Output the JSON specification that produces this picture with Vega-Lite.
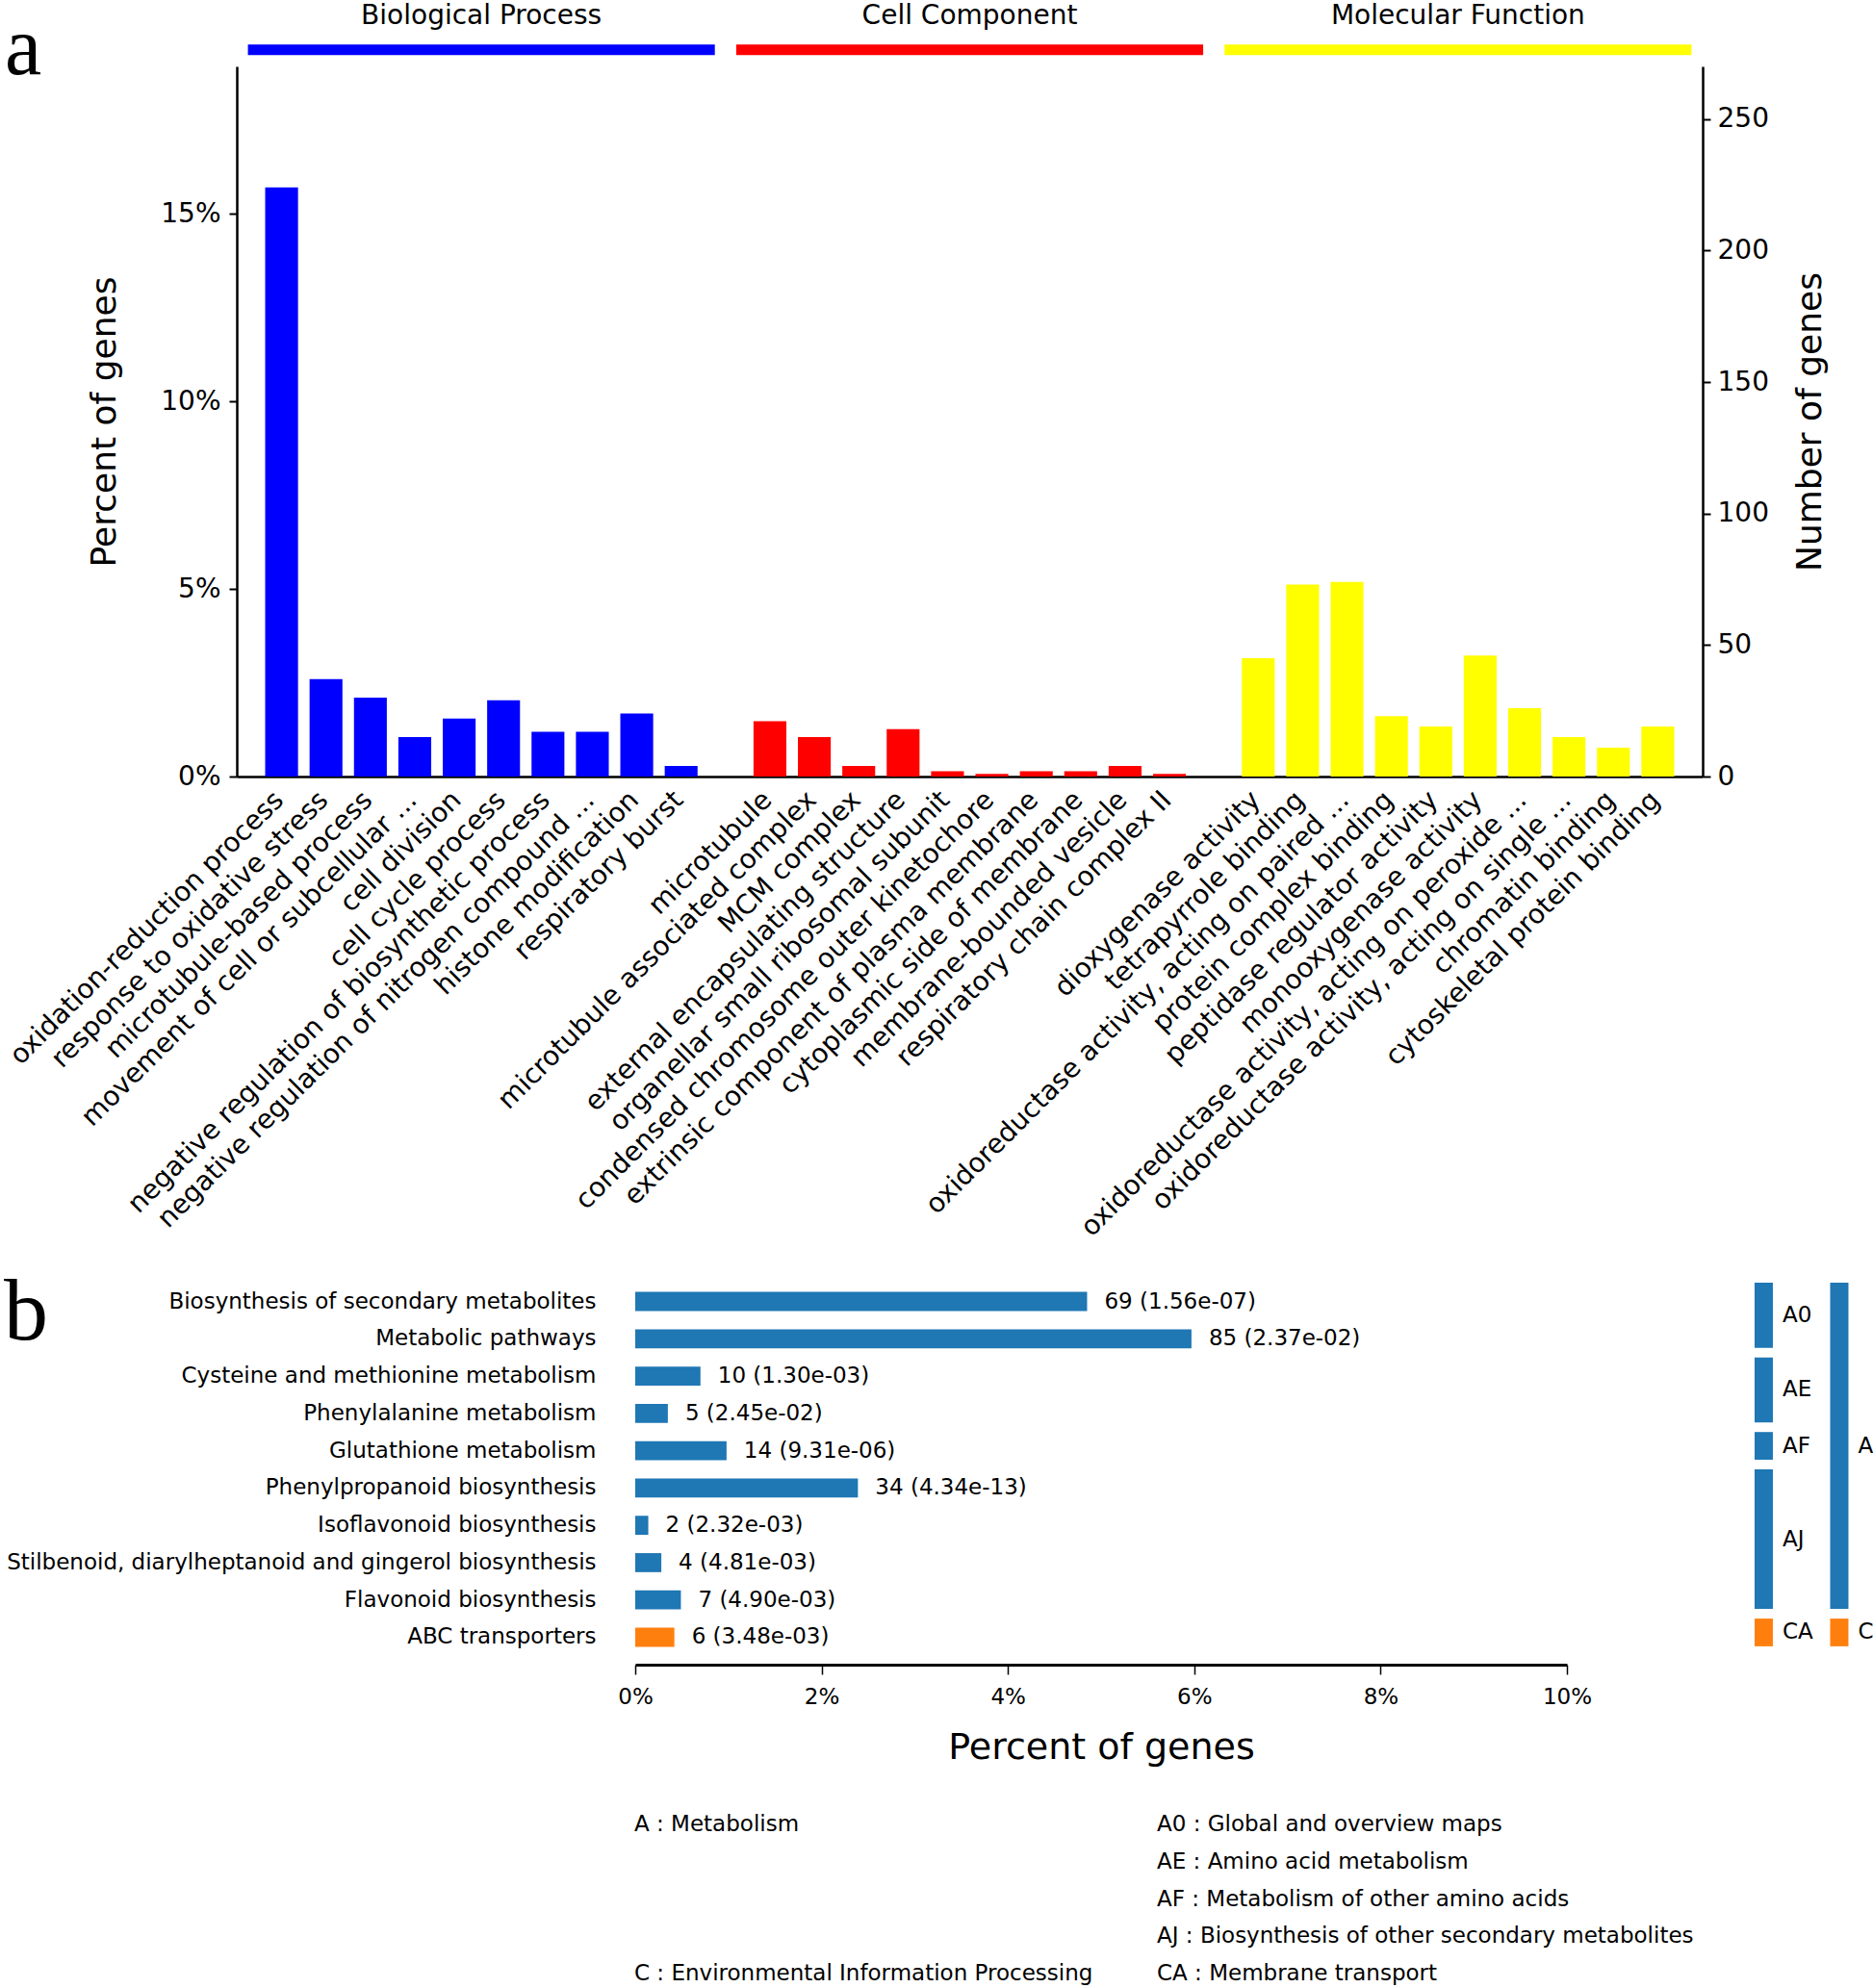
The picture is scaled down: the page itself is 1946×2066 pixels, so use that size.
{
  "$schema": "https://vega.github.io/schema/vega-lite/v6.json",
  "background": "white",
  "padding": {"left": 4, "top": 2, "right": 0, "bottom": 0},
  "spacing": 27,
  "config": {
    "font": "DejaVu Sans",
    "view": {"stroke": null},
    "axis": {"labelFont": "DejaVu Sans", "titleFont": "DejaVu Sans", "labelColor": "black", "titleColor": "black", "domainColor": "black", "tickColor": "black", "titleFontWeight": "normal", "grid": false, "labelFlush": false, "labelOverlap": false},
    "text": {"font": "DejaVu Sans", "color": "black"}
  },
  "resolve": {"scale": {"color": "independent"}},
  "datasets": {
    "pathways": [
      {"idx": 1, "name": "Biosynthesis of secondary metabolites", "count": 69, "pct": 4.85, "lab": "69 (1.56e-07)", "cls": "A", "sub": "A0"},
      {"idx": 2, "name": "Metabolic pathways", "count": 85, "pct": 5.97, "lab": "85 (2.37e-02)", "cls": "A", "sub": "A0"},
      {"idx": 3, "name": "Cysteine and methionine metabolism", "count": 10, "pct": 0.70, "lab": "10 (1.30e-03)", "cls": "A", "sub": "AE"},
      {"idx": 4, "name": "Phenylalanine metabolism", "count": 5, "pct": 0.35, "lab": "5 (2.45e-02)", "cls": "A", "sub": "AE"},
      {"idx": 5, "name": "Glutathione metabolism", "count": 14, "pct": 0.98, "lab": "14 (9.31e-06)", "cls": "A", "sub": "AF"},
      {"idx": 6, "name": "Phenylpropanoid biosynthesis", "count": 34, "pct": 2.39, "lab": "34 (4.34e-13)", "cls": "A", "sub": "AJ"},
      {"idx": 7, "name": "Isoflavonoid biosynthesis", "count": 2, "pct": 0.14, "lab": "2 (2.32e-03)", "cls": "A", "sub": "AJ"},
      {"idx": 8, "name": "Stilbenoid, diarylheptanoid and gingerol biosynthesis", "count": 4, "pct": 0.28, "lab": "4 (4.81e-03)", "cls": "A", "sub": "AJ"},
      {"idx": 9, "name": "Flavonoid biosynthesis", "count": 7, "pct": 0.49, "lab": "7 (4.90e-03)", "cls": "A", "sub": "AJ"},
      {"idx": 10, "name": "ABC transporters", "count": 6, "pct": 0.42, "lab": "6 (3.48e-03)", "cls": "C", "sub": "CA"}
    ]
  },
  "vconcat": [
    {
      "width": 1523,
      "height": 738,
      "data": {"values": [
        {"term": "oxidation-reduction process", "group": "Biological Process", "count": 224, "pct": 15.71},
        {"term": "response to oxidative stress", "group": "Biological Process", "count": 37, "pct": 2.59},
        {"term": "microtubule-based process", "group": "Biological Process", "count": 30, "pct": 2.10},
        {"term": "movement of cell or subcellular ...", "group": "Biological Process", "count": 15, "pct": 1.05},
        {"term": "cell division", "group": "Biological Process", "count": 22, "pct": 1.54},
        {"term": "cell cycle process", "group": "Biological Process", "count": 29, "pct": 2.03},
        {"term": "negative regulation of biosynthetic process", "group": "Biological Process", "count": 17, "pct": 1.19},
        {"term": "negative regulation of nitrogen compound ...", "group": "Biological Process", "count": 17, "pct": 1.19},
        {"term": "histone modification", "group": "Biological Process", "count": 24, "pct": 1.68},
        {"term": "respiratory burst", "group": "Biological Process", "count": 4, "pct": 0.28},
        {"term": "microtubule", "group": "Cell Component", "count": 21, "pct": 1.47},
        {"term": "microtubule associated complex", "group": "Cell Component", "count": 15, "pct": 1.05},
        {"term": "MCM complex", "group": "Cell Component", "count": 4, "pct": 0.28},
        {"term": "external encapsulating structure", "group": "Cell Component", "count": 18, "pct": 1.26},
        {"term": "organellar small ribosomal subunit", "group": "Cell Component", "count": 2, "pct": 0.14},
        {"term": "condensed chromosome outer kinetochore", "group": "Cell Component", "count": 1, "pct": 0.07},
        {"term": "extrinsic component of plasma membrane", "group": "Cell Component", "count": 2, "pct": 0.14},
        {"term": "cytoplasmic side of membrane", "group": "Cell Component", "count": 2, "pct": 0.14},
        {"term": "membrane-bounded vesicle", "group": "Cell Component", "count": 4, "pct": 0.28},
        {"term": "respiratory chain complex II", "group": "Cell Component", "count": 1, "pct": 0.07},
        {"term": "dioxygenase activity", "group": "Molecular Function", "count": 45, "pct": 3.16},
        {"term": "tetrapyrrole binding", "group": "Molecular Function", "count": 73, "pct": 5.12},
        {"term": "oxidoreductase activity, acting on paired ...", "group": "Molecular Function", "count": 74, "pct": 5.19},
        {"term": "protein complex binding", "group": "Molecular Function", "count": 23, "pct": 1.61},
        {"term": "peptidase regulator activity", "group": "Molecular Function", "count": 19, "pct": 1.33},
        {"term": "monooxygenase activity", "group": "Molecular Function", "count": 46, "pct": 3.23},
        {"term": "oxidoreductase activity, acting on peroxide ...", "group": "Molecular Function", "count": 26, "pct": 1.82},
        {"term": "oxidoreductase activity, acting on single ...", "group": "Molecular Function", "count": 15, "pct": 1.05},
        {"term": "chromatin binding", "group": "Molecular Function", "count": 11, "pct": 0.77},
        {"term": "cytoskeletal protein binding", "group": "Molecular Function", "count": 19, "pct": 1.33}
      ]},
      "layer": [
        {
          "layer": [
            {
              "mark": {"type": "bar"},
              "encoding": {
                "x": {
                  "field": "term", "type": "nominal",
                  "scale": {"domain": ["oxidation-reduction process", "response to oxidative stress", "microtubule-based process", "movement of cell or subcellular ...", "cell division", "cell cycle process", "negative regulation of biosynthetic process", "negative regulation of nitrogen compound ...", "histone modification", "respiratory burst", "gap1", "microtubule", "microtubule associated complex", "MCM complex", "external encapsulating structure", "organellar small ribosomal subunit", "condensed chromosome outer kinetochore", "extrinsic component of plasma membrane", "cytoplasmic side of membrane", "membrane-bounded vesicle", "respiratory chain complex II", "gap2", "dioxygenase activity", "tetrapyrrole binding", "oxidoreductase activity, acting on paired ...", "protein complex binding", "peptidase regulator activity", "monooxygenase activity", "oxidoreductase activity, acting on peroxide ...", "oxidoreductase activity, acting on single ...", "chromatin binding", "cytoskeletal protein binding"], "paddingInner": 0.26, "paddingOuter": 0.64},
                  "axis": {"title": null, "labelAngle": -45, "labelFontSize": 28, "ticks": false, "tickSize": 0, "labelPadding": 10, "labelOffset": -12, "domainWidth": 2.5, "labelLimit": 0, "labelExpr": "indexof(datum.label, 'gap') === 0 ? '' : datum.label"}
                },
                "y": {
                  "field": "count", "type": "quantitative", "scale": {"domain": [0, 270], "nice": false},
                  "axis": {"orient": "right", "title": "Number of genes", "values": [0, 50, 100, 150, 200, 250], "tickSize": 8, "tickWidth": 2, "domainWidth": 2.5, "labelFontSize": 28, "labelPadding": 7, "titleFontSize": 36, "titleAngle": 270, "titleBaseline": "top", "titlePadding": 26}
                },
                "color": {"field": "group", "type": "nominal", "scale": {"domain": ["Biological Process", "Cell Component", "Molecular Function"], "range": ["#0000ff", "#ff0000", "#ffff00"]}, "legend": null}
              }
            },
            {
              "data": {"values": [
                {"group": "Biological Process", "first": "oxidation-reduction process", "last": "respiratory burst", "mid": "cell cycle process"},
                {"group": "Cell Component", "first": "microtubule", "last": "respiratory chain complex II", "mid": "condensed chromosome outer kinetochore"},
                {"group": "Molecular Function", "first": "dioxygenase activity", "last": "cytoskeletal protein binding", "mid": "monooxygenase activity"}
              ]},
              "layer": [
                {
                  "mark": {"type": "rule", "strokeWidth": 11, "strokeCap": "butt", "xOffset": -35, "x2Offset": 35},
                  "encoding": {
                    "x": {"field": "first", "type": "nominal", "title": null},
                    "x2": {"field": "last"},
                    "y": {"datum": 276.3, "type": "quantitative", "scale": {"domain": [0, 270], "nice": false}},
                    "color": {"field": "group", "type": "nominal"}
                  }
                },
                {
                  "mark": {"type": "text", "fontSize": 28, "baseline": "alphabetic", "align": "center", "dx": -6},
                  "encoding": {
                    "x": {"field": "mid", "type": "nominal", "bandPosition": 0, "title": null},
                    "y": {"datum": 286.1, "type": "quantitative", "scale": {"domain": [0, 270], "nice": false}},
                    "text": {"field": "group"}
                  }
                }
              ]
            },
            {
              "data": {"values": [{"panel": "a"}]},
              "mark": {"type": "text", "font": "Liberation Serif", "fontSize": 86, "align": "left", "baseline": "alphabetic", "dx": -287.5},
              "encoding": {
                "x": {"datum": "oxidation-reduction process", "type": "nominal", "title": null},
                "y": {"datum": 267.1, "type": "quantitative", "scale": {"domain": [0, 270], "nice": false}},
                "text": {"field": "panel"}
              }
            }
          ]
        },
        {
          "mark": {"type": "bar", "opacity": 0},
          "encoding": {
            "x": {"field": "term", "type": "nominal", "title": null},
            "y": {
              "field": "pct", "type": "quantitative", "scale": {"domain": [0, 18.93], "nice": false},
              "axis": {"orient": "left", "title": "Percent of genes", "values": [0, 5, 10, 15], "labelExpr": "datum.value + '%'", "tickSize": 8, "tickWidth": 2, "domainWidth": 2.5, "labelFontSize": 28, "labelPadding": 9, "titleFontSize": 36, "titlePadding": 39}
            }
          }
        }
      ],
      "resolve": {"scale": {"y": "independent"}, "axis": {"y": "independent"}}
    },
    {
      "spacing": 22,
      "hconcat": [
        {
          "width": 373,
          "height": 406,
          "data": {"name": "pathways"},
          "layer": [
            {
              "mark": {"type": "point", "opacity": 0},
              "encoding": {
                "y": {
                  "field": "name", "type": "nominal",
                  "scale": {"type": "band", "domain": ["Biosynthesis of secondary metabolites", "Metabolic pathways", "Cysteine and methionine metabolism", "Phenylalanine metabolism", "Glutathione metabolism", "Phenylpropanoid biosynthesis", "Isoflavonoid biosynthesis", "Stilbenoid, diarylheptanoid and gingerol biosynthesis", "Flavonoid biosynthesis", "ABC transporters"], "paddingInner": 0.49, "paddingOuter": 0.48},
                  "axis": {"orient": "right", "title": null, "domain": false, "ticks": false, "tickSize": 0, "labelPadding": 0, "labelAlign": "right", "labelFontSize": 23, "labelLimit": 0}
                }
              }
            },
            {
              "data": {"values": [{"panel": "b"}]},
              "mark": {"type": "text", "font": "Liberation Serif", "fontSize": 92, "align": "left", "baseline": "alphabetic", "dx": -242, "dy": 39.5},
              "encoding": {
                "x": {"datum": 0, "type": "quantitative", "scale": {"domain": [0, 1]}, "axis": null},
                "y": {"datum": "Biosynthesis of secondary metabolites", "type": "nominal"},
                "text": {"field": "panel"}
              }
            }
          ]
        },
        {
          "width": 968,
          "height": 406,
          "data": {"name": "pathways"},
          "layer": [
            {
              "mark": {"type": "bar"},
              "encoding": {
                "y": {
                  "field": "name", "type": "nominal",
                  "scale": {"domain": ["Biosynthesis of secondary metabolites", "Metabolic pathways", "Cysteine and methionine metabolism", "Phenylalanine metabolism", "Glutathione metabolism", "Phenylpropanoid biosynthesis", "Isoflavonoid biosynthesis", "Stilbenoid, diarylheptanoid and gingerol biosynthesis", "Flavonoid biosynthesis", "ABC transporters"], "paddingInner": 0.49, "paddingOuter": 0.48},
                  "axis": null
                },
                "x": {
                  "field": "pct", "type": "quantitative", "scale": {"domain": [0, 10]},
                  "axis": {"title": "Percent of genes", "values": [0, 2, 4, 6, 8, 10], "labelExpr": "datum.value + '%'", "tickSize": 10, "tickWidth": 1.5, "domainWidth": 3, "labelFontSize": 23, "labelPadding": 12, "titleFontSize": 38, "titlePadding": 22}
                },
                "color": {"field": "cls", "type": "nominal", "scale": {"domain": ["A", "C"], "range": ["#1f77b4", "#ff7f0e"]}, "legend": null}
              }
            },
            {
              "mark": {"type": "text", "align": "left", "baseline": "middle", "dx": 18, "fontSize": 23},
              "encoding": {
                "y": {"field": "name", "type": "nominal"},
                "x": {"field": "pct", "type": "quantitative"},
                "text": {"field": "lab"}
              }
            }
          ]
        },
        {
          "width": 271,
          "height": 406,
          "data": {"name": "pathways"},
          "transform": [
            {"fold": ["sub", "cls"], "as": ["level", "code"]},
            {"aggregate": [{"op": "min", "field": "idx", "as": "i0"}, {"op": "max", "field": "idx", "as": "i1"}, {"op": "mean", "field": "idx", "as": "im"}], "groupby": ["level", "code", "cls"]}
          ],
          "layer": [
            {
              "mark": {"type": "rule", "strokeWidth": 19, "strokeCap": "butt", "yOffset": -19.4, "y2Offset": 9.4},
              "encoding": {
                "x": {"field": "level", "type": "nominal", "scale": {"domain": ["sub", "cls"], "paddingInner": 0.5, "paddingOuter": 0.976, "align": 0.893}, "axis": null},
                "y": {"field": "i0", "type": "quantitative", "scale": {"domain": [0.265, 10.735], "reverse": true, "nice": false, "zero": false}, "axis": null},
                "y2": {"field": "i1"},
                "color": {"field": "cls", "type": "nominal", "scale": {"domain": ["A", "C"], "range": ["#1f77b4", "#ff7f0e"]}, "legend": null}
              }
            },
            {
              "mark": {"type": "text", "align": "left", "baseline": "middle", "dx": 19.5, "dy": -5, "fontSize": 23},
              "encoding": {
                "x": {"field": "level", "type": "nominal"},
                "y": {"field": "im", "type": "quantitative"},
                "text": {"field": "code"}
              }
            }
          ]
        }
      ]
    },
    {
      "width": 1369,
      "height": 200,
      "data": {"values": [
        {"level": "cls", "row": 1, "label": "A : Metabolism"},
        {"level": "cls", "row": 5, "label": "C : Environmental Information Processing"},
        {"level": "sub", "row": 1, "label": "A0 : Global and overview maps"},
        {"level": "sub", "row": 2, "label": "AE : Amino acid metabolism"},
        {"level": "sub", "row": 3, "label": "AF : Metabolism of other amino acids"},
        {"level": "sub", "row": 4, "label": "AJ : Biosynthesis of other secondary metabolites"},
        {"level": "sub", "row": 5, "label": "CA : Membrane transport"}
      ]},
      "mark": {"type": "text", "align": "left", "baseline": "middle", "fontSize": 23},
      "encoding": {
        "x": {"field": "level", "type": "nominal", "scale": {"type": "point", "domain": ["cls", "sub"], "padding": 0.7606}, "axis": null},
        "y": {"field": "row", "type": "quantitative", "scale": {"domain": [0.1237, 5.278], "reverse": true, "nice": false, "zero": false}, "axis": null},
        "text": {"field": "label"}
      }
    }
  ]
}
